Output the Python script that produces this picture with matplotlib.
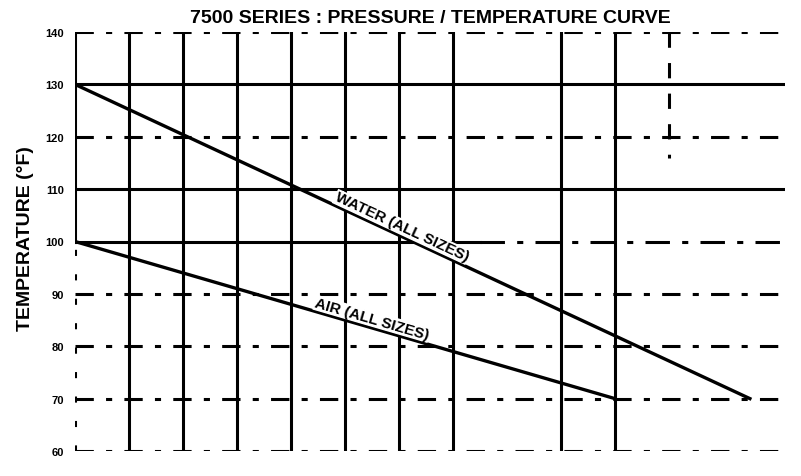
import numpy as np
import matplotlib
matplotlib.use("Agg")
import matplotlib.pyplot as plt

# ========== 数据 ==========
# 压力 (psi) / 温度 (°F)
WATER_PRESSURE = [0, 250]
WATER_TEMP = [130, 70]
AIR_PRESSURE = [0, 200]
AIR_TEMP = [100, 70]

Y_TICKS = [60, 70, 80, 90, 100, 110, 120, 130, 140]
SOLID_ROWS = [130, 110]
DASHED_ROWS = [140, 120, 90, 80, 70, 60]
GRID_COLS = [20, 40, 60, 80, 100, 120, 140, 180, 200]

TITLE = "7500 SERIES : PRESSURE / TEMPERATURE CURVE"
YLABEL = "TEMPERATURE (°F)"

FONT = ["Liberation Sans", "DejaVu Sans"]

fig = plt.figure(figsize=(8.01, 4.77), dpi=100)
ax = fig.add_axes([75 / 801, 1 - 452 / 477, (785 - 75) / 801, (452 - 33) / 477])
ax.set_xlim(0, 263)
ax.set_ylim(60, 140)
for s in ax.spines.values():
    s.set_visible(False)
ax.set_xticks([])
ax.set_yticks(Y_TICKS)
ax.set_yticklabels([str(v) for v in Y_TICKS], family=FONT, fontsize=8, fontweight="bold")
ax.tick_params(axis="y", length=0, pad=8)

lw = 2.2
# 网格线
for y in SOLID_ROWS:
    ax.axhline(y, color="black", lw=lw, zorder=1)
for y in DASHED_ROWS:
    ax.axhline(y, color="black", lw=lw, dashes=(6, 4, 2, 4), zorder=1)
ax.plot([0, 150], [100, 100], color="black", lw=lw, zorder=1)
ax.plot([150, 263], [100, 100], color="black", lw=lw, dashes=(8, 4, 2, 4), zorder=1)
for x in GRID_COLS:
    ax.axvline(x, color="black", lw=lw, zorder=1)
ax.plot([220, 220], [140, 116], color="black", lw=lw, dashes=(5, 5))
# 左轴
ax.plot([0, 0], [100, 140], color="black", lw=lw)
ax.plot([0, 0], [60, 100], color="black", lw=lw, dashes=(2, 6))

# 曲线
ax.plot(WATER_PRESSURE, WATER_TEMP, color="black", lw=2.4, zorder=3)
ax.plot(AIR_PRESSURE, AIR_TEMP, color="black", lw=2.4, zorder=3)


def screen_angle(xs, ys):
    p = ax.transData.transform(np.column_stack([xs, ys]))
    return np.degrees(np.arctan2(p[1, 1] - p[0, 1], p[1, 0] - p[0, 0]))


def label_on(xs, ys, xc, dy, text):
    yc = np.interp(xc, xs, ys)
    ang = screen_angle(xs, ys)
    ax.annotate(text, (xc, yc), xytext=(2, dy), textcoords="offset points",
                rotation=ang, rotation_mode="anchor", ha="center", va="center",
                family=FONT, fontsize=11, fontweight="bold", zorder=4,
                bbox=dict(boxstyle="square,pad=0.05", fc="white", ec="none"))


label_on(WATER_PRESSURE, WATER_TEMP, 120, 6, "WATER (ALL SIZES)")
label_on(AIR_PRESSURE, AIR_TEMP, 109, 6, "AIR (ALL SIZES)")

fig.text(0.537, 0.962, TITLE, ha="center", va="center",
         family=FONT, fontsize=14, fontweight="bold")
fig.text(0.032, 0.5, YLABEL, ha="center", va="center", rotation=90,
         family=FONT, fontsize=14, fontweight="bold")

fig.savefig("out.png", dpi=100, facecolor="white")
